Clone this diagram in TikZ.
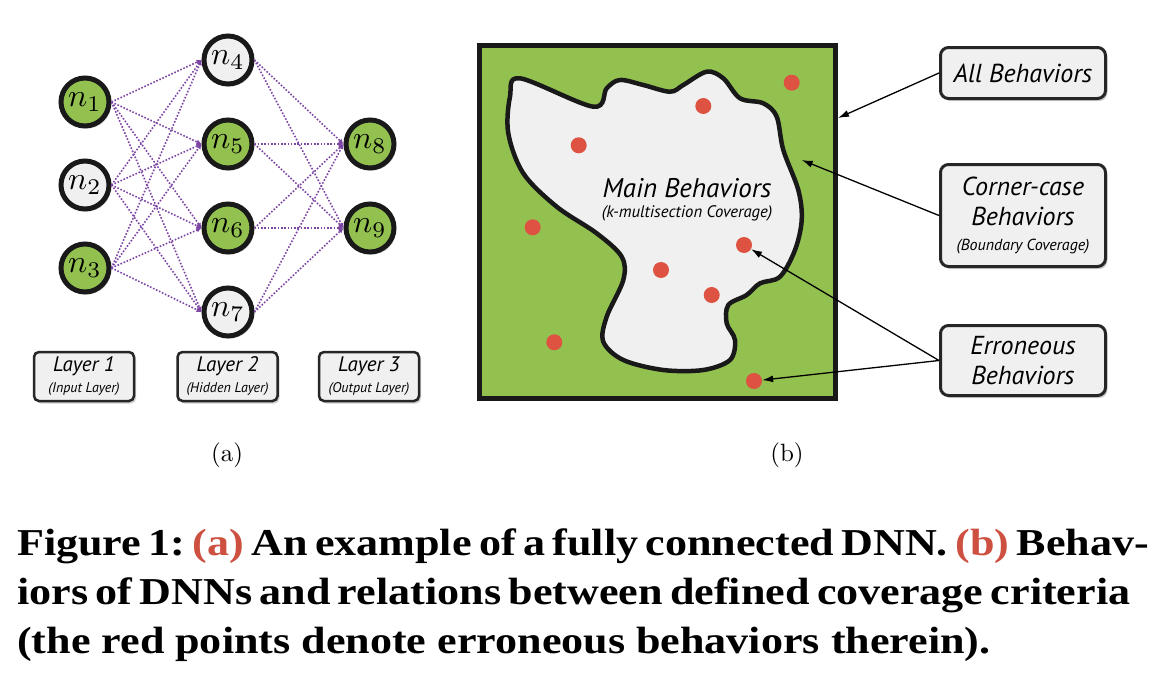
\documentclass[tikz,border=0pt]{standalone}
\usepackage{fontspec}
\setsansfont{PT Sans}
\newfontfamily\capfont[FakeStretch=1.16]{Liberation Serif}
\usetikzlibrary{shadows,arrows.meta}
\definecolor{ngreen}{RGB}{147,193,80}
\definecolor{ngray}{RGB}{240,240,240}
\definecolor{dred}{RGB}{222,82,66}
\definecolor{epurple}{RGB}{125,70,165}
\definecolor{capred}{RGB}{205,80,65}
\tikzset{
  neuron/.style={circle, draw=black!90, line width=5pt, minimum size=48pt, inner sep=0pt,
    drop shadow={shadow xshift=2pt, shadow yshift=-2.5pt, opacity=0.3, fill=black!60}},
  gnode/.style={neuron, fill=ngreen},
  wnode/.style={neuron, fill=ngray},
  conn/.style={draw=epurple, line width=1.6pt, dash pattern=on 1.6pt off 1.7pt,
    -{Latex[length=5pt,width=5pt]}},
  layerbox/.style={draw=black!85, line width=2.5pt, fill=ngray, rounded corners=5pt,
    minimum width=100pt, minimum height=49pt, inner sep=0pt, align=center,
    font=\sffamily\itshape\fontsize{21}{25}\selectfont,
    drop shadow={shadow xshift=2pt, shadow yshift=-2.5pt, opacity=0.3, fill=black!60}},
  rbox/.style={draw=black!85, line width=3pt, fill=ngray, rounded corners=8pt,
    minimum width=165pt, inner sep=0pt, align=center,
    font=\sffamily\itshape\fontsize{26}{30}\selectfont,
    drop shadow={shadow xshift=2pt, shadow yshift=-2.5pt, opacity=0.3, fill=black!60}},
  dot/.style={circle, fill=dred, minimum size=16pt, inner sep=0pt},
  arr/.style={draw=black, line width=1.3pt, -{Latex[length=11pt,width=7pt]}},
  capline/.style={anchor=base west, inner sep=0pt, font=\capfont\bfseries\fontsize{38}{46}\selectfont\frenchspacing}
}
\newcommand{\nlab}[1]{\scalebox{3.2}{$n_{#1}$}}
\begin{document}
\begin{tikzpicture}[x=1pt,y=-1pt]
\useasboundingbox (0,0) rectangle (1160,680);
\fill[white] (0,0) rectangle (1160,680);

% ---------- (a) network ----------
\node[gnode] (n1) at (85,102) {\nlab{1}};
\node[wnode] (n2) at (85,185) {\nlab{2}};
\node[gnode] (n3) at (85,268) {\nlab{3}};
\node[wnode] (n4) at (228,60) {\nlab{4}};
\node[gnode] (n5) at (228,144) {\nlab{5}};
\node[gnode] (n6) at (228,228) {\nlab{6}};
\node[wnode] (n7) at (228,312) {\nlab{7}};
\node[gnode] (n8) at (370,144) {\nlab{8}};
\node[gnode] (n9) at (370,228) {\nlab{9}};

\foreach \s in {n1,n2,n3}{
  \foreach \t in {n4,n5,n6,n7}{
    \draw[conn] (\s.east) -- (\t.west);
  }
}
\foreach \s in {n4,n5,n6,n7}{
  \foreach \t in {n8,n9}{
    \draw[conn] (\s.east) -- (\t.west);
  }
}

\node[layerbox] (l1) at (84,376.5) {Layer 1\\[-4pt]{\fontsize{14}{16}\selectfont (Input Layer)}};
\node[layerbox] (l2) at (227.5,376.5) {Layer 2\\[-4pt]{\fontsize{14}{16}\selectfont (Hidden Layer)}};
\node[layerbox] (l3) at (369,376.5) {Layer 3\\[-4pt]{\fontsize{14}{16}\selectfont (Output Layer)}};

\node (la) at (227,455) {\scalebox{2.5}{(a)}};
\node (lb) at (787,455) {\scalebox{2.5}{(b)}};

% ---------- (b) behaviours ----------
\node[draw=black!90, fill=ngreen, line width=5pt, minimum width=356pt, minimum height=353pt,
  inner sep=0pt,
  drop shadow={shadow xshift=2.5pt, shadow yshift=-3pt, opacity=0.3, fill=black!60}] (all) at (657,221.5) {};

\draw[line width=4.5pt, fill=ngray, draw=black!90] plot[smooth cycle, tension=0.55] coordinates {
 (520,78.3) (593.3,106.7) (606.7,88.3) (620,80) (643.3,85) (670,91.7) (683.3,85)
 (706.7,71.7) (723.3,78.3) (740,98.3) (763.3,103.3) (776.7,116.7) (783.3,150)
 (798.3,190) (801.7,220) (795,250) (780,276.7) (760,283.3) (746.7,295) (728.3,305)
 (726.7,323.3) (735,340) (730,360) (703.3,370) (663.3,370) (623.3,360) (603.3,341.7)
 (606.7,316.7) (623.3,280) (621.7,256.7) (596.7,233.3) (556.7,206.7) (523.3,173.3)
 (508.3,133.3) (510,96.7)};

\node[font=\sffamily\itshape\fontsize{27}{27}\selectfont] (mb) at (687,188) {Main Behaviors};
\node[font=\sffamily\itshape\fontsize{16.7}{17}\selectfont] (mbs) at (687,213) {(k-multisection Coverage)};

\node[dot] (d1) at (791.7,82.7) {};
\node[dot] (d2) at (703.3,106) {};
\node[dot] (d3) at (578.7,145.3) {};
\node[dot] (d4) at (532.7,227.3) {};
\node[dot] (d5) at (744,245) {};
\node[dot] (d6) at (661,270) {};
\node[dot] (d7) at (711.7,295) {};
\node[dot] (d8) at (554.3,342.3) {};
\node[dot] (d9) at (754,381) {};

\node[rbox, minimum height=51pt] (ab) at (1023,73) {All Behaviors};
\node[rbox, minimum height=102pt] (cb) at (1023,215.5)
  {Corner-case\\Behaviors\\[-5pt]{\fontsize{16}{18}\selectfont (Boundary Coverage)}};
\node[rbox, minimum height=70pt] (eb) at (1023,360.5) {Erroneous\\Behaviors};

\coordinate (allpt) at (838,118);
\coordinate (cornerpt) at (801.7,160);
\draw[arr] (ab.west) -- (allpt);
\draw[arr] (cb.west) -- (cornerpt);
\draw[arr] (eb.west) -- (d5);
\draw[arr] (eb.west) -- (d9);

% ---------- caption ----------
\node[capline] (cap1) at (17,555)
  {\makebox[1120pt][s]{Figure 1: \textcolor{capred}{(a)} An example of a fully connected DNN. \textcolor{capred}{(b)} Behav-}};
\node[capline] (cap2) at (17,604)
  {\makebox[1112pt][s]{iors of DNNs and relations between defined coverage criteria}};
\node[capline] (cap3) at (17,653)
  {(the red points denote erroneous behaviors therein).};
\end{tikzpicture}
\end{document}
